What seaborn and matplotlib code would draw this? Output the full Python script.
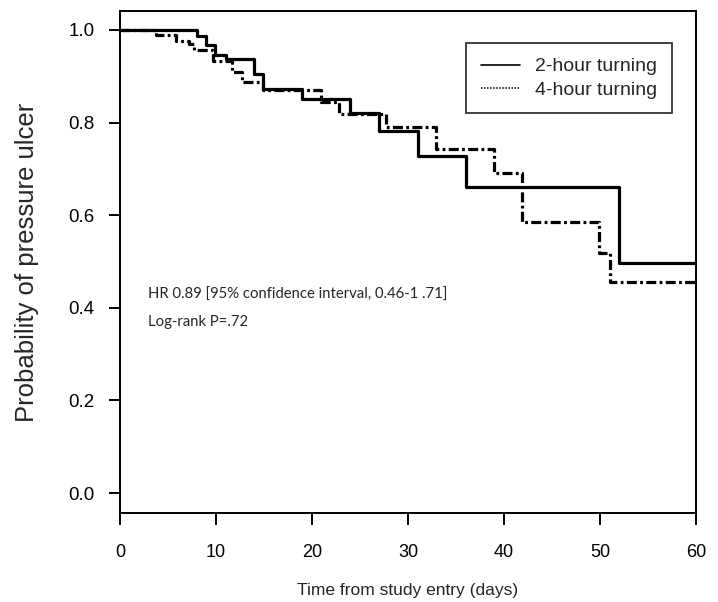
import numpy as np
import pandas as pd
import matplotlib
matplotlib.use("Agg")
import matplotlib.pyplot as plt
from matplotlib.lines import Line2D
import seaborn as sns

# ---- data (Kaplan-Meier step curves) ----
t_2h = [0, 8.0, 9.0, 9.9, 11.0, 14.0, 14.9, 19.0, 24.0, 27.0, 31.0, 36.0, 52.0, 60]
s_2h = [1.0, 0.988, 0.968, 0.947, 0.937, 0.906, 0.872, 0.851, 0.820, 0.782, 0.728, 0.660, 0.497, 0.497]

t_4h = [0, 3.8, 5.8, 7.2, 7.7, 9.7, 11.7, 12.7, 14.9, 20.9, 22.8, 27.7, 32.9, 39.0, 41.9, 49.9, 51.0, 60]
s_4h = [1.0, 0.990, 0.977, 0.970, 0.957, 0.934, 0.910, 0.888, 0.870, 0.845, 0.818, 0.791, 0.742, 0.692,
        0.586, 0.519, 0.456, 0.456]

groups = ["2-hour turning", "4-hour turning"]
x_ticks = [0, 10, 20, 30, 40, 50, 60]
y_ticks = [0.0, 0.2, 0.4, 0.6, 0.8, 1.0]
note_lines = ["HR 0.89 [95% confidence interval, 0.46-1 .71]", "Log-rank P=.72"]

df = pd.concat([
    pd.DataFrame({"time": t_2h, "surv": s_2h, "group": groups[0]}),
    pd.DataFrame({"time": t_4h, "surv": s_4h, "group": groups[1]}),
], ignore_index=True)

sns.set_theme(style="ticks")
plt.rcParams.update({
    "lines.scale_dashes": False,
    "axes.linewidth": 1.4,
    "xtick.major.width": 1.4,
    "ytick.major.width": 1.4,
    "xtick.major.size": 8.5,
    "ytick.major.size": 8,
    "xtick.color": "black",
    "ytick.color": "black",
    "axes.edgecolor": "black",
})
plt.rcParams["font.family"] = ["Liberation Sans", "DejaVu Sans"]

fig = plt.figure(figsize=(7.18, 6.02), dpi=100)
ax = fig.add_axes([120 / 718, 1 - 513 / 602, 576 / 718, 502 / 602])

dash_dot = (0, (7.2, 2.4, 2.0, 2.4))
sns.lineplot(data=df[df["group"] == groups[0]], x="time", y="surv", estimator=None,
             drawstyle="steps-post", color="black", linewidth=2.3, ax=ax, legend=False)
sns.lineplot(data=df[df["group"] == groups[1]], x="time", y="surv", estimator=None,
             drawstyle="steps-post", color="black", linewidth=2.3, linestyle=dash_dot,
             ax=ax, legend=False)

ax.set_xlim(0, 60)
ax.set_ylim(-0.043, 1.041)
ax.set_xticks(x_ticks)
ax.set_yticks(y_ticks)
ax.set_yticklabels([f"{v:.1f}" for v in y_ticks], fontsize=13.5)
ax.set_xticklabels([str(v) for v in x_ticks], fontsize=13)
ax.tick_params(axis="x", pad=13.5)
ax.tick_params(axis="y", pad=10.5)
for sp in ax.spines.values():
    sp.set_visible(True)

ax.set_xlabel("Time from study entry (days)", fontsize=12.5, labelpad=16)
ax.set_ylabel("Probability of pressure ulcer", fontsize=18.5, labelpad=21)

for i, line in enumerate(note_lines):
    ax.text(2.9, 0.428 - i * 0.059, line, fontsize=10.7, va="center", ha="left",
            family=["Lato", "DejaVu Sans"])

handles = [Line2D([], [], color="black", lw=1.2, linestyle="-"),
           Line2D([], [], color="black", lw=1.2, linestyle=(0, (1, 1.2)))]
leg = ax.legend(handles, groups, loc="upper right", bbox_to_anchor=(0.958, 0.936),
                borderaxespad=0, fontsize=14, frameon=True, fancybox=False,
                handlelength=2.0, handletextpad=0.8, borderpad=0.75, labelspacing=0.3)
leg.get_frame().set_edgecolor("black")
leg.get_frame().set_linewidth(1.3)

fig.savefig("out.png", dpi=100, facecolor="white")
